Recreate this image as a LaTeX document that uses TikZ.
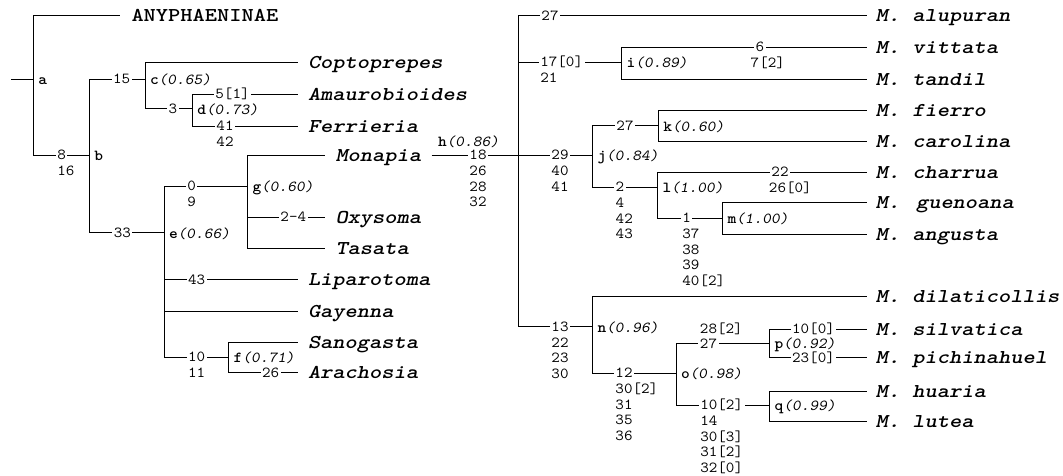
\documentclass[tikz,border=0pt]{standalone}
\usepackage{graphicx}
\newcommand\nfs{\fontsize{15.3}{15.5}\selectfont\ttfamily}
\newcommand\nsc[1]{\scalebox{1.085}[1]{\nfs #1}}
\newcommand\tsc[1]{\scalebox{1.19}[1]{\fontsize{19.6}{20}\selectfont\ttfamily\bfseries\slshape #1}}
\newcommand\tup[1]{\scalebox{1.19}[1]{\fontsize{19.6}{20}\selectfont\ttfamily\bfseries #1}}
\newcommand\lb[2]{\nsc{\textbf{#1}\textsl{(#2)}}}
\newcommand\bn[3]{\node[num] (#1) at (#2) {\nsc{#3}};}
\newcommand\bs[3][0pt]{\node[numsub] (#2s) at ([xshift=#1,yshift=-15.5pt]#2.south west) {\nsc{\begin{tabular}[t]{@{}l@{}}#3\end{tabular}}};}
\begin{document}
\begin{tikzpicture}[x=1pt,y=-1pt,line width=1pt,
 tax/.style={anchor=west,inner xsep=8.5pt,inner ysep=1pt,text height=12pt,text depth=0pt},
 num/.style={fill=white,inner xsep=1.5pt,inner ysep=0pt,text height=9.3pt,text depth=0pt},
 numsub/.style={anchor=base west,inner xsep=1.5pt,inner ysep=0pt},
 lab/.style={anchor=west,inner sep=0pt,xshift=4.5pt,yshift=-1.2pt,text height=9.3pt,text depth=0pt}]
\useasboundingbox (0,0) rectangle (1063,475);
% junctions
\coordinate (root) at (11,79);
\coordinate (a) at (33.3,79);
\coordinate (b) at (89.3,155);
\coordinate (c) at (145,79);
\coordinate (d) at (192.3,108.5);
\coordinate (e) at (164,232.5);
\coordinate (g) at (247.5,186);
\coordinate (f) at (228.7,357);
\coordinate (h) at (518.3,155);
\coordinate (i) at (621.7,62);
\coordinate (j) at (592.5,155);
\coordinate (k) at (658.3,125.5);
\coordinate (l) at (657.5,187);
\coordinate (m) at (722.5,218);
\coordinate (n) at (592.5,326.5);
\coordinate (o) at (676,373);
\coordinate (p) at (769.5,343.5);
\coordinate (q) at (769.5,405);
% taxa
\node[tax,inner xsep=11pt] (anyph) at (120,15.7) {\tup{ANYPHAENINAE}};
\node[tax,inner xsep=9.5pt] (copt) at (298,62) {\tsc{Coptoprepes}};
\node[tax,inner xsep=9.5pt] (amau) at (298,94.3) {\tsc{Amaurobioides}};
\node[tax,inner xsep=9.5pt] (ferr) at (298,126) {\tsc{Ferrieria}};
\node[tax,inner xsep=10pt] (mona) at (325,155) {\tsc{Monapia}};
\node[tax,inner xsep=10pt] (oxys) at (325,217) {\tsc{Oxysoma}};
\node[tax,inner xsep=10pt] (tasa) at (325,248) {\tsc{Tasata}};
\node[tax,inner xsep=9.5pt] (lipa) at (298,279.5) {\tsc{Liparotoma}};
\node[tax,inner xsep=9.5pt] (gaye) at (298,311) {\tsc{Gayenna}};
\node[tax,inner xsep=9.5pt] (sano) at (298,342) {\tsc{Sanogasta}};
\node[tax,inner xsep=9.5pt] (arac) at (298,372.5) {\tsc{Arachosia}};
\node[tax] (alup) at (866.7,15.7) {\tsc{M. alupuran}};
\node[tax] (vitt) at (866.7,47) {\tsc{M. vittata}};
\node[tax] (tand) at (866.7,79.3) {\tsc{M. tandil}};
\node[tax] (fier) at (866.7,110.5) {\tsc{M. fierro}};
\node[tax] (caro) at (866.7,141) {\tsc{M. carolina}};
\node[tax] (charr) at (866.7,172) {\tsc{M. charrua}};
\node[tax] (guen) at (866.7,202.5) {\tsc{M.\kern3pt{} guenoana}};
\node[tax] (angu) at (866.7,234) {\tsc{M. angusta}};
\node[tax] (dila) at (866.7,296.5) {\tsc{M. dilaticollis}};
\node[tax] (silv) at (866.7,329) {\tsc{M. silvatica}};
\node[tax] (pich) at (866.7,357.5) {\tsc{M. pichinahuel}};
\node[tax] (huar) at (866.7,391) {\tsc{M. huaria}};
\node[tax] (lute) at (866.7,421.5) {\tsc{M. lutea}};
% branches
\draw (root) -- (a);
\draw (a) |- (anyph.west);
\draw (a) |- (b);
\draw (b) |- (c);
\draw (b) |- (e);
\draw (c) |- (copt.west);
\draw (c) |- (d);
\draw (d) |- (amau.west);
\draw (d) |- (ferr.west);
\draw (e) |- (g);
\draw (e) |- (lipa.west);
\draw (e) |- (gaye.west);
\draw (e) |- (f);
\draw (g) |- (mona.west);
\draw (g) |- (oxys.west);
\draw (g) |- (tasa.west);
\draw (f) |- (sano.west);
\draw (f) |- (arac.west);
\draw (mona.east) -- (h);
\draw (h) |- (alup.west);
\draw (h) |- (i);
\draw (h) -- (j);
\draw (h) |- (n);
\draw (i) |- (vitt.west);
\draw (i) |- (tand.west);
\draw (j) |- (k);
\draw (j) |- (l);
\draw (k) |- (fier.west);
\draw (k) |- (caro.west);
\draw (l) |- (charr.west);
\draw (l) |- (m);
\draw (m) |- (guen.west);
\draw (m) |- (angu.west);
\draw (n) |- (dila.west);
\draw (n) |- (o);
\draw (o) |- (p);
\draw (o) |- (q);
\draw (p) |- (silv.west);
\draw (p) |- (pich.west);
\draw (q) |- (huar.west);
\draw (q) |- (lute.west);
% branch numbers
\bn{n8}{61.7,155}{8} \bs{n8}{16}
\bn{n15}{121.7,79}{15}
\bn{n33}{122.3,232.5}{33}
\bn{n3}{173,108.5}{3}
\bn{n51}{232.5,94.3}{5[1]}
\bn{n41}{225,126}{41} \bs{n41}{42}
\bn{n0}{191.7,186}{0} \bs{n0}{9}
\bn{n24}{293.3,217}{2-4}
\bn{n43}{196.7,279.5}{43}
\bn{n10}{196.7,357}{10} \bs{n10}{11}
\bn{n26}{270.7,372.5}{26}
\bn{n18}{478,155}{18} \bs{n18}{26\\28\\32}
\bn{n27a}{550,15.7}{27}
\bn{n17}{561.7,62}{17[0]} \bs{n17}{21}
\bn{n6}{760,47}{6} \bs[-5pt]{n6}{7[2]}
\bn{n29}{560,155}{29} \bs{n29}{40\\41}
\bn{n27k}{625,125.5}{27}
\bn{n2}{620,187}{2} \bs{n2}{4\\42\\43}
\bn{n22}{780,172}{22} \bs[-2.5pt]{n22}{26[0]}
\bn{n1}{686.7,218}{1} \bs{n1}{37\\38\\39\\40[2]}
\bn{n13}{560,326.5}{13} \bs{n13}{22\\23\\30}
\bn{n12}{624,373}{12} \bs{n12}{30[2]\\31\\35\\36}
\bn{n27p}{708.5,343.5}{27}
\node[numsub] (n27pa) at ([yshift=15.5pt]n27p.south west) {\nsc{28[2]}};
\bn{n100}{813.5,329}{10[0]}
\bn{n230}{813.5,358}{23[0]}
\bn{n102}{721.7,405}{10[2]} \bs{n102}{14\\30[3]\\31[2]\\32[0]}
% node labels
\node[lab] (la) at (a) {\nsc{\textbf{a}}};
\node[lab] (lbb) at (b) {\nsc{\textbf{b}}};
\node[lab] (lc) at (c) {\lb{c}{0.65}};
\node[lab] (ld) at (d) {\lb{d}{0.73}};
\node[lab] (le) at (e) {\lb{e}{0.66}};
\node[lab] (lf) at (f) {\lb{f}{0.71}};
\node[lab] (lg) at (g) {\lb{g}{0.60}};
\node[anchor=west,inner sep=0pt,text height=9.3pt,text depth=0pt] (lh) at (437.5,141.7) {\lb{h}{0.86}};
\node[lab] (li) at (i) {\lb{i}{0.89}};
\node[lab] (lj) at (j) {\lb{j}{0.84}};
\node[lab] (lk) at (k) {\lb{k}{0.60}};
\node[lab] (ll) at (l) {\lb{l}{1.00}};
\node[lab] (lm) at (m) {\lb{m}{1.00}};
\node[lab] (ln) at (n) {\lb{n}{0.96}};
\node[lab] (lo) at (o) {\lb{o}{0.98}};
\node[lab,yshift=1.2pt] (lp) at (p) {\lb{p}{0.92}};
\node[lab] (lq) at (q) {\lb{q}{0.99}};
\end{tikzpicture}
\end{document}
